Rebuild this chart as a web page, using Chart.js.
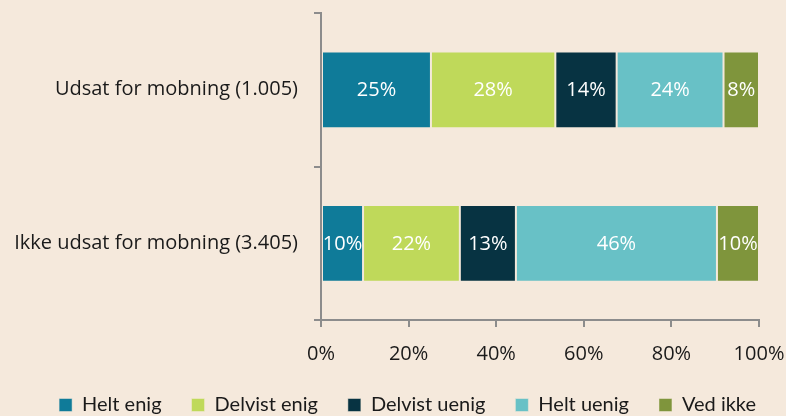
<!DOCTYPE html>
<html><head><meta charset="utf-8">
<script src="https://cdn.jsdelivr.net/npm/chart.js@4/dist/chart.umd.min.js"></script>
<style>
html,body{margin:0;padding:0;background:#f5e9dc;}
#wrap{width:786px;height:416px;position:relative;}
</style></head>
<body><div id="wrap"><canvas id="c" width="786" height="416"></canvas></div>
<script>
const categories = ["Udsat for mobning (1.005)", "Ikke udsat for mobning (3.405)"];
const seriesNames = ["Helt enig", "Delvist enig", "Delvist uenig", "Helt uenig", "Ved ikke"];
const heltEnig = [25.1, 9.6];
const delvistEnig = [28.4, 22.1];
const delvistUenig = [14.0, 12.8];
const heltUenig = [24.4, 45.9];
const vedIkke = [8.1, 9.6];
const xTicks = [0, 20, 40, 60, 80, 100];
const colors = ["#0f7b99", "#bfd95a", "#073342", "#68c1c6", "#7f953c"];

const seriesValues = [heltEnig, delvistEnig, delvistUenig, heltUenig, vedIkke];
const FONT = "'Open Sans', 'Noto Sans', sans-serif";
const LEGEND_FONT = "Lato, 'Open Sans', sans-serif";

const labelPlugin = {
  id: 'segLabels',
  afterDatasetsDraw(chart) {
    const ctx = chart.ctx;
    ctx.save();
    ctx.fillStyle = '#ffffff';
    ctx.font = "20px " + FONT;
    ctx.textAlign = 'center';
    ctx.textBaseline = 'middle';
    chart.data.datasets.forEach((ds, di) => {
      const meta = chart.getDatasetMeta(di);
      meta.data.forEach((el, i) => {
        const v = ds.data[i];
        const cx = (el.x + el.base) / 2;
        ctx.fillText(Math.round(v) + '%', cx, el.y + 1);
      });
    });
    ctx.restore();
  }
};

new Chart(document.getElementById('c'), {
  type: 'bar',
  data: {
    labels: categories,
    datasets: seriesNames.map((n, i) => ({
      label: n,
      data: seriesValues[i],
      backgroundColor: colors[i],
      borderColor: 'rgba(245,233,220,0.5)',
      borderWidth: 1,
      borderSkipped: false,
      categoryPercentage: 0.5,
      barPercentage: 1.0
    }))
  },
  options: {
    indexAxis: 'y',
    responsive: false,
    animation: false,
    devicePixelRatio: 1,
    layout: { padding: { left: 0, right: 0, top: 13, bottom: -9 } },
    scales: {
      x: {
        stacked: true,
        min: 0, max: 100,
        afterBuildTicks(axis) { axis.ticks = xTicks.map(v => ({ value: v })); },
        ticks: { callback: v => v + '%', color: '#1a1a1a', font: { family: FONT, size: 20 }, padding: 15, maxRotation: 0 },
        grid: { display: true, drawOnChartArea: false, drawTicks: true, tickLength: 7, color: '#8c8c8c', lineWidth: 2 },
        border: { display: true, color: '#8c8c8c', width: 2 },
        afterFit(axis) { axis.height = 45; axis.paddingLeft = 0; axis.paddingRight = 27; }
      },
      y: {
        stacked: true,
        ticks: { color: '#1a1a1a', font: { family: FONT, size: 20 }, padding: 16 },
        grid: { display: true, drawOnChartArea: false, drawTicks: true, tickLength: 7, color: '#8c8c8c', lineWidth: 2, offset: true },
        border: { display: true, color: '#8c8c8c', width: 2 },
        afterFit(axis) { axis.width = 321; axis.paddingTop = 0; axis.paddingBottom = 0; }
      }
    },
    plugins: {
      legend: {
        position: 'bottom',
        align: 'end',
        labels: {
          boxWidth: 13, boxHeight: 13, padding: 30,
          color: '#1a1a1a',
          font: { family: LEGEND_FONT, size: 20 }
        }
      },
      tooltip: { enabled: false }
    }
  },
  plugins: [labelPlugin]
});
</script></body></html>
